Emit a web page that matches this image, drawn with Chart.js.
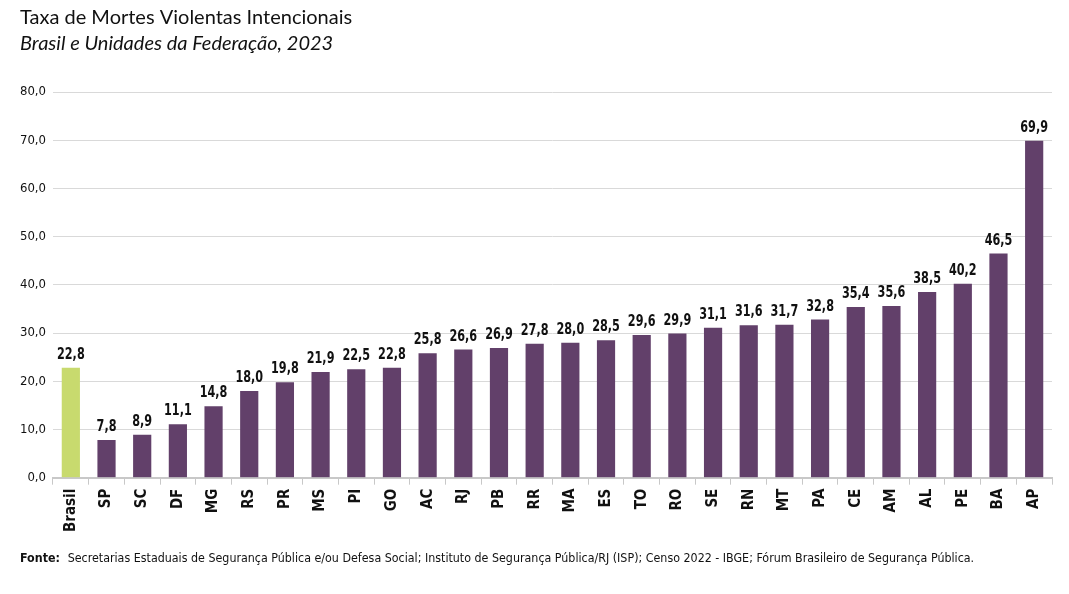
<!DOCTYPE html>
<html>
<head>
<meta charset="utf-8">
<script src="https://cdn.jsdelivr.net/npm/chart.js@4/dist/chart.umd.min.js"></script>
<style>
  html, body { margin: 0; padding: 0; background: #fff; }
  #wrap { width: 1069px; height: 594px; position: relative; }
</style>
</head>
<body>
<div id="wrap"><canvas id="mvi"></canvas></div>
<script>
// categorias e valores (taxa por 100 mil hab.)
var ufs = ["Brasil", "SP", "SC", "DF", "MG", "RS", "PR", "MS", "PI", "GO", "AC", "RJ", "PB", "RR",
           "MA", "ES", "TO", "RO", "SE", "RN", "MT", "PA", "CE", "AM", "AL", "PE", "BA", "AP"];
var taxas = [22.8, 7.8, 8.9, 11.1, 14.8, 18.0, 19.8, 21.9, 22.5, 22.8, 25.8, 26.6, 26.9, 27.8,
             28.0, 28.5, 29.6, 29.9, 31.1, 31.6, 31.7, 32.8, 35.4, 35.6, 38.5, 40.2, 46.5, 69.9];
var yTicks = [0, 10, 20, 30, 40, 50, 60, 70, 80];

var purple = "#62406a";
var green = "#c8da6e";
var narrow = "'DejaVu Sans Condensed', 'Liberation Sans Narrow', sans-serif";

var barColors = ufs.map(function (u) { return u === "Brasil" ? green : purple; });

function br(v) { return v.toFixed(1).replace(".", ","); }

// rótulos acima das barras (texto comprimido na horizontal)
var valueLabels = {
  id: "valueLabels",
  afterDatasetsDraw: function (chart) {
    var ctx = chart.ctx;
    var meta = chart.getDatasetMeta(0);
    ctx.save();
    ctx.font = "bold 16px " + narrow;
    ctx.fillStyle = "#111";
    ctx.textAlign = "center";
    ctx.textBaseline = "bottom";
    meta.data.forEach(function (bar, i) {
      ctx.save();
      ctx.translate(bar.x, bar.y - 5);
      ctx.scale(0.78, 1);
      ctx.fillText(br(taxas[i]), 0, 0);
      ctx.restore();
    });
    ctx.restore();
  }
};

// fonte no rodapé
var fonte = {
  id: "fonte",
  afterDraw: function (chart) {
    var ctx = chart.ctx;
    ctx.save();
    ctx.translate(20, 559);
    ctx.scale(0.95, 1);
    ctx.textBaseline = "middle";
    ctx.fillStyle = "#111";
    ctx.font = "bold 13px " + narrow;
    ctx.fillText("Fonte:", 0, 0);
    var w = ctx.measureText("Fonte:  ").width;
    ctx.font = "13px " + narrow;
    ctx.fillText("Secretarias Estaduais de Segurança Pública e/ou Defesa Social; Instituto de Segurança Pública/RJ (ISP); Censo 2022 - IBGE; Fórum Brasileiro de Segurança Pública.", w, 0);
    ctx.restore();
  }
};

new Chart("mvi", {
  type: "bar",
  data: {
    labels: ufs,
    datasets: [{
      data: taxas,
      backgroundColor: barColors,
      barPercentage: 0.51,
      categoryPercentage: 1
    }]
  },
  options: {
    responsive: true,
    maintainAspectRatio: false,
    animation: false,
    layout: { padding: { left: 20, right: 17, top: 0, bottom: 58 } },
    plugins: {
      legend: { display: false },
      tooltip: { enabled: false },
      title: {
        display: true,
        text: "Taxa de Mortes Violentas Intencionais",
        align: "start",
        color: "#111",
        font: { family: "Lato, sans-serif", size: 20, weight: "normal" },
        padding: { top: 6, bottom: 2 }
      },
      subtitle: {
        display: true,
        text: "Brasil e Unidades da Federação, 2023",
        align: "start",
        color: "#111",
        font: { family: "Lato, sans-serif", size: 20, style: "italic" },
        padding: { top: 0, bottom: 36 }
      }
    },
    scales: {
      y: {
        min: 0,
        max: 80,
        afterBuildTicks: function (axis) {
          axis.ticks = yTicks.map(function (v) { return { value: v }; });
        },
        afterFit: function (axis) { axis.width = 33; },
        border: { display: false },
        grid: { color: "#d9d9d9", lineWidth: 1, drawTicks: false },
        ticks: {
          padding: 7,
          color: "#111",
          font: { family: narrow, size: 13 },
          callback: function (v) { return br(v); }
        }
      },
      x: {
        border: { display: true, color: "#c8c8c8", width: 2 },
        grid: { drawOnChartArea: false, color: "#c8c8c8", tickLength: 7 },
        ticks: {
          minRotation: 90,
          maxRotation: 90,
          padding: 4,
          color: "#111",
          font: { family: narrow, size: 15, weight: "bold" }
        }
      }
    }
  },
  plugins: [valueLabels, fonte]
});
</script>
</body>
</html>
